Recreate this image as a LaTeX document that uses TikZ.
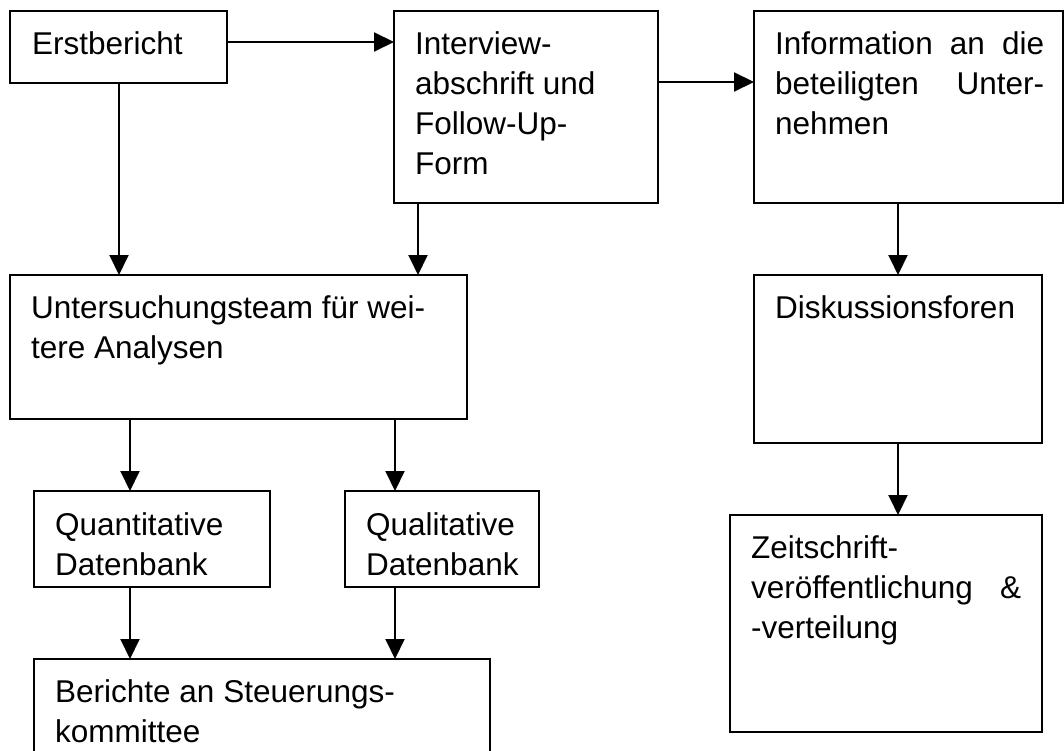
\documentclass[tikz,border=0pt]{standalone}
\usepackage{fontspec}
\setmainfont{Liberation Sans}
\usetikzlibrary{arrows.meta}
\newcommand{\jline}[2]{\makebox[#1][s]{#2}}
\begin{document}
\begin{tikzpicture}[x=1pt,y=-1pt,
  box/.style={draw=black, line width=2pt, fill=white, inner sep=0pt, outer sep=0pt, anchor=north west},
  txt/.style={inner sep=0pt, anchor=base west, font=\fontsize{31.5}{40}\selectfont},
  arr/.style={line width=2pt, -{Triangle[length=20pt,width=19pt]}}]
\useasboundingbox (0,0) rectangle (1064,751);
\clip (0,0) rectangle (1064,751);
\fill[white] (0,0) rectangle (1064,751);
% boxes
\node[box, minimum width=217pt, minimum height=72pt] (erst) at (10,11) {};
\node[box, minimum width=264pt, minimum height=192pt] (int) at (394,11) {};
\node[box, minimum width=309pt, minimum height=192pt] (info) at (754,11) {};
\node[box, minimum width=457pt, minimum height=144pt] (unt) at (10,275) {};
\node[box, minimum width=288pt, minimum height=168pt] (disk) at (754,275) {};
\node[box, minimum width=236pt, minimum height=96pt] (quant) at (34,491) {};
\node[box, minimum width=194pt, minimum height=96pt] (qual) at (345,491) {};
\node[box, minimum width=456pt, minimum height=120pt] (ber) at (34,659) {};
\node[box, minimum width=312pt, minimum height=217pt] (zeit) at (730,515) {};
% texts
\node[txt] (erstT) at (32,55) {Erstbericht};
\node[txt] (intT) at (415,55) {\begin{tabular}[t]{@{}l@{}}Interview-\\abschrift und\\Follow-Up-\\Form\end{tabular}};
\node[txt] (infoT) at (775,55) {\begin{tabular}[t]{@{}l@{}}\jline{269pt}{Information an die}\\\jline{269pt}{beteiligten Unter-}\\nehmen\end{tabular}};
\node[txt] (untT) at (31,318) {\begin{tabular}[t]{@{}l@{}}Untersuchungsteam für wei-\\tere Analysen\end{tabular}};
\node[txt] (diskT) at (775,318) {Diskussionsforen};
\node[txt] (quantT) at (55,535) {\begin{tabular}[t]{@{}l@{}}Quantitative\\Datenbank\end{tabular}};
\node[txt] (qualT) at (366,535) {\begin{tabular}[t]{@{}l@{}}Qualitative\\Datenbank\end{tabular}};
\node[txt] (berT) at (55,702) {\begin{tabular}[t]{@{}l@{}}Berichte an Steuerungs-\\kommittee\end{tabular}};
\node[txt] (zeitT) at (751,558) {\begin{tabular}[t]{@{}l@{}}Zeitschrift-\\\jline{270pt}{veröffentlichung \&}\\-verteilung\end{tabular}};
% connector start points
\coordinate (h1) at ([yshift=-31pt]erst.north east);
\coordinate (h2) at ([yshift=-71pt]int.north east);
\coordinate (v1) at ([xshift=109pt]erst.south west);
\coordinate (v2) at ([xshift=24pt]int.south west);
\coordinate (v3) at ([xshift=120pt]unt.south west);
\coordinate (v4) at ([xshift=385pt]unt.south west);
\coordinate (v5) at ([xshift=96pt]quant.south west);
\coordinate (v6) at ([xshift=50pt]qual.south west);
\coordinate (v7) at ([xshift=144pt]info.south west);
\coordinate (v8) at ([xshift=144pt]disk.south west);
% connectors
\draw[arr] (h1) -- (h1 -| int.west);
\draw[arr] (h2) -- (h2 -| info.west);
\draw[arr] (v1) -- (v1 |- unt.north);
\draw[arr] (v2) -- (v2 |- unt.north);
\draw[arr] (v3) -- (v3 |- quant.north);
\draw[arr] (v4) -- (v4 |- qual.north);
\draw[arr] (v5) -- (v5 |- ber.north);
\draw[arr] (v6) -- (v6 |- ber.north);
\draw[arr] (v7) -- (v7 |- disk.north);
\draw[arr] (v8) -- (v8 |- zeit.north);
\end{tikzpicture}
\end{document}
